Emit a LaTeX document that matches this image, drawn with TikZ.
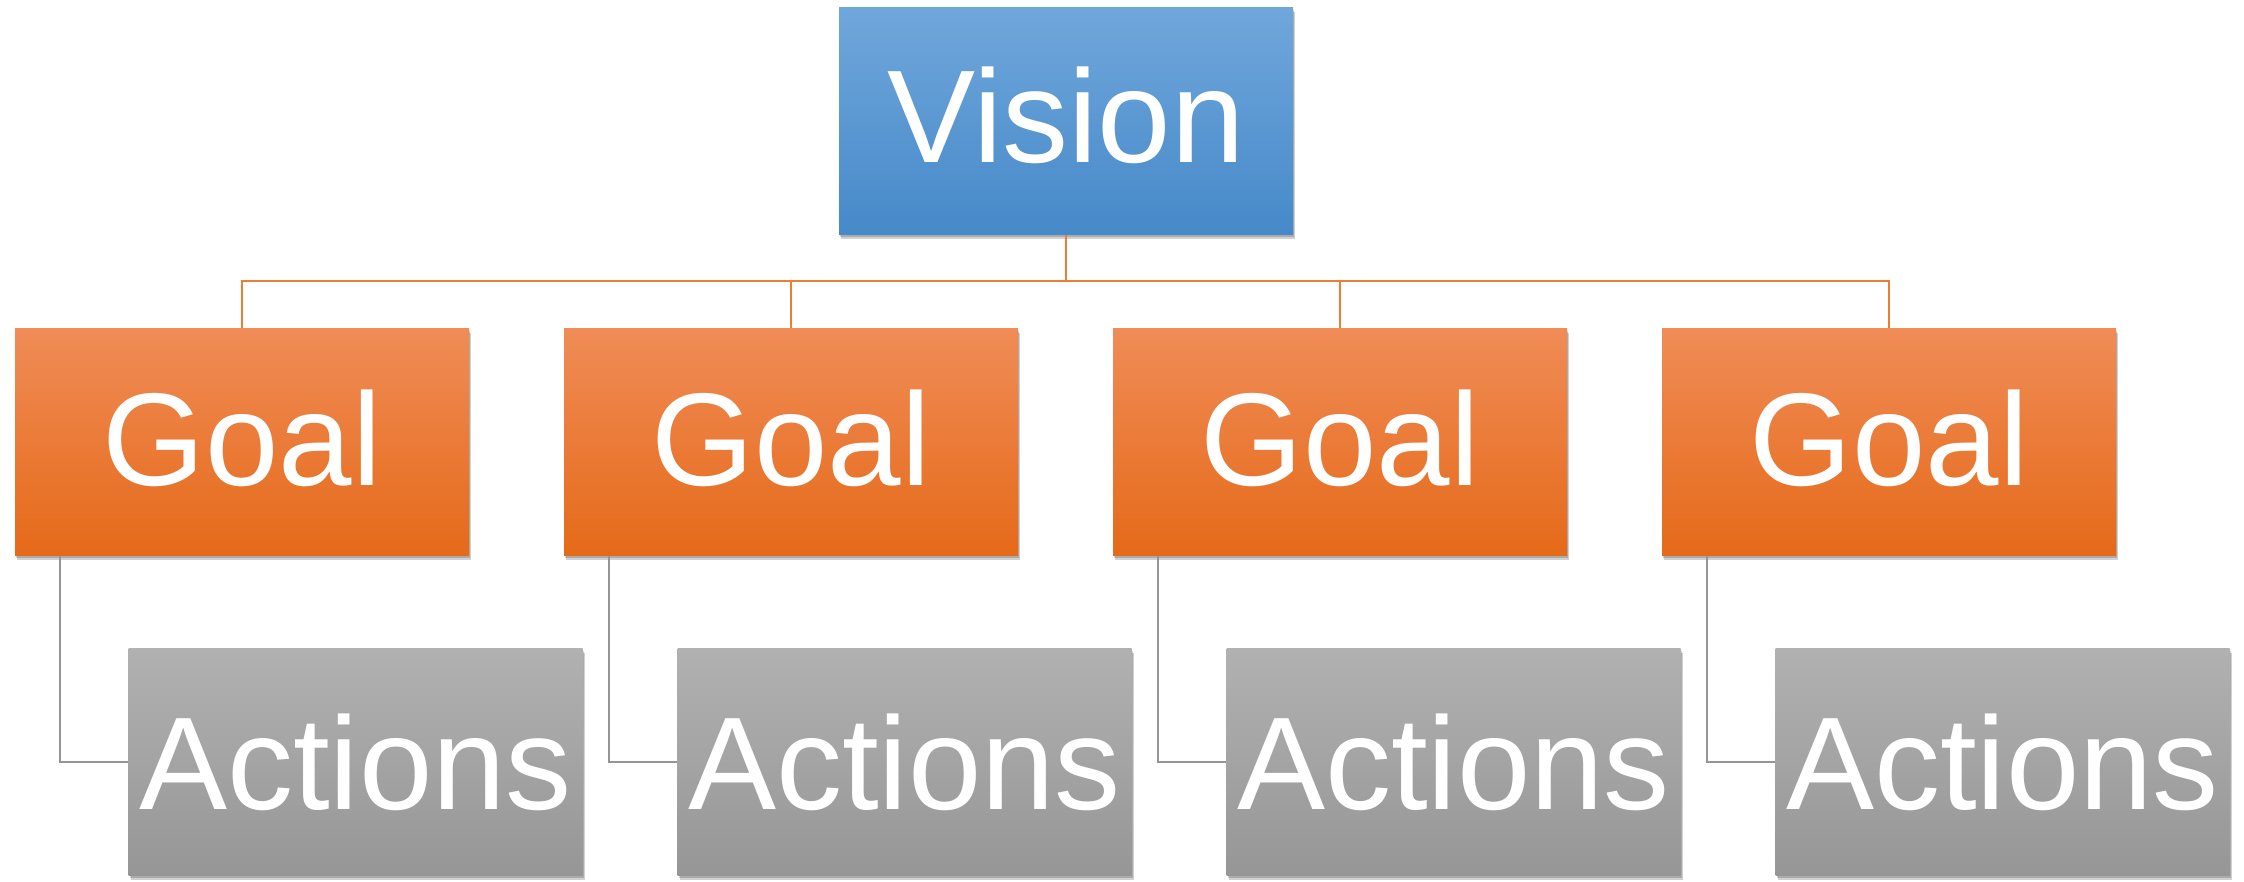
\documentclass[tikz,border=0pt]{standalone}
\usepackage{fontspec}
\setmainfont{Liberation Sans}
\usetikzlibrary{shadows}
\definecolor{vtop}{HTML}{70A7DB}
\definecolor{vbot}{HTML}{4689C9}
\definecolor{gtop}{HTML}{F08C57}
\definecolor{gmid}{HTML}{F47D2D}
\definecolor{gbot}{HTML}{E56A19}
\definecolor{atop}{HTML}{B1B1B1}
\definecolor{abot}{HTML}{969696}
\definecolor{oline}{HTML}{ED7D31}
\definecolor{gline}{HTML}{959595}
\tikzset{
  box/.style={rectangle, minimum width=454pt, minimum height=227pt, inner sep=0pt,
    text=white, font=\fontsize{132}{140}\selectfont,
    drop shadow={shadow xshift=2pt, shadow yshift=-4pt, opacity=0.18, fill=black},
    drop shadow={shadow xshift=1pt, shadow yshift=-2pt, opacity=0.18, fill=black}},
  visionbox/.style={box, top color=vtop, bottom color=vbot, text depth=12pt},
  goalbox/.style={box, top color=gtop, middle color=gmid, bottom color=gbot, text depth=8pt},
  actbox/.style={box, top color=atop, bottom color=abot},
  oconn/.style={draw=oline, line width=2.5pt},
  gconn/.style={draw=gline, line width=2.2pt}
}
\begin{document}
\begin{tikzpicture}[x=1pt,y=-1pt]
\useasboundingbox[fill=white] (0,0) rectangle (2244,881);
\node[visionbox] (v) at (1066,121) {Vision};
\node[goalbox] (g1) at (242,442) {Goal};
\node[goalbox] (g2) at (791,442) {Goal};
\node[goalbox] (g3) at (1340,442) {Goal};
\node[goalbox] (g4) at (1889,442) {Goal};
\node[actbox] (a1) at (355.5,762) {Actions};
\node[actbox] (a2) at (904.5,762) {Actions};
\node[actbox] (a3) at (1453.5,762) {Actions};
\node[actbox] (a4) at (2002.5,762) {Actions};
\coordinate (bus) at (1066,281);
\draw[oconn] (v.south) -- (bus);
\foreach \g in {g1,g2,g3,g4}{
  \draw[oconn] (bus) -| (\g.north);
}
\foreach \g/\a in {g1/a1,g2/a2,g3/a3,g4/a4}{
  \draw[gconn] ([xshift=45pt]\g.south west) |- (\a.west);
}
\end{tikzpicture}
\end{document}
